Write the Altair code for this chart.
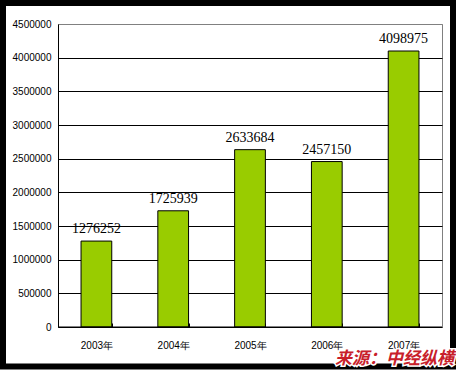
import altair as alt
import pandas as pd

years = ["2003年", "2004年", "2005年", "2006年", "2007年"]
values = [1276252, 1725939, 2633684, 2457150, 4098975]
y_ticks = [0, 500000, 1000000, 1500000, 2000000, 2500000, 3000000, 3500000, 4000000, 4500000]
source_text = "来源：中经纵横"

df = pd.DataFrame({"year": years, "value": values})

x_enc = alt.X(
    "year:N",
    sort=years,
    scale=alt.Scale(paddingInner=0.6, paddingOuter=0.3),
    axis=alt.Axis(
        title=None,
        domain=False,
        tickBand="extent",
        tickSize=4,
        tickColor="black",
        offset=-4,
        labelFont="Liberation Sans",
        labelFontSize=10,
        labelColor="black",
        labelPadding=13,
        labelAngle=0,
        labelOverlap=False,
        grid=False,
    ),
)
y_enc = alt.Y(
    "value:Q",
    scale=alt.Scale(domain=[0, 4500000], nice=False),
    axis=alt.Axis(
        title=None,
        values=y_ticks,
        tickCount=10,
        format="d",
        ticks=False,
        domainColor="black",
        labelFont="Liberation Sans",
        labelFontSize=10,
        labelColor="black",
        labelPadding=7,
        labelOverlap=False,
        labelFlush=False,
        grid=True,
        gridColor=alt.condition("datum.value == 4500000", alt.value("#808080"), alt.value("black")),
        gridOpacity=1,
    ),
)

base = alt.Chart(df).encode(x=x_enc, y=y_enc)

bars = base.mark_bar(color="#99CC00", stroke="black", strokeWidth=1)

labels = base.mark_text(
    font="Liberation Serif", fontSize=14, baseline="bottom", dy=-5, color="black"
).encode(text=alt.Text("value:Q", format="d"))

one = pd.DataFrame({"t": [source_text]})

bottom_line = alt.Chart(one).mark_rule(color="black", strokeWidth=1).encode(y=alt.datum(0))

frame = alt.Chart(one).mark_rect(filled=False, stroke="black", strokeWidth=6).encode(
    x=alt.value(-55), x2=alt.value(395), y=alt.value(-21), y2=alt.value(342.5)
)

src_outline = alt.Chart(one).mark_text(
    font="Noto Sans CJK SC", fontSize=17, fontWeight="bold", fontStyle="italic",
    align="right", baseline="alphabetic", stroke="white", strokeWidth=3, fill="white"
).encode(x=alt.value(396), y=alt.value(340), text="t:N")

src = alt.Chart(one).mark_text(
    font="Noto Sans CJK SC", fontSize=17, fontWeight="bold", fontStyle="italic",
    align="right", baseline="alphabetic", color="#C8202A"
).encode(x=alt.value(396), y=alt.value(340), text="t:N")

chart = alt.layer(bars, labels, bottom_line, frame, src_outline, src).properties(
    width=384,
    height=303,
    padding={"left": 58, "top": 24, "right": 14, "bottom": 43},
    autosize=alt.AutoSizeParams(type="none"),
    background="white",
).configure_view(stroke="#808080", strokeWidth=1)

chart.save("out.html", embed_options={"renderer": "svg", "actions": False})
